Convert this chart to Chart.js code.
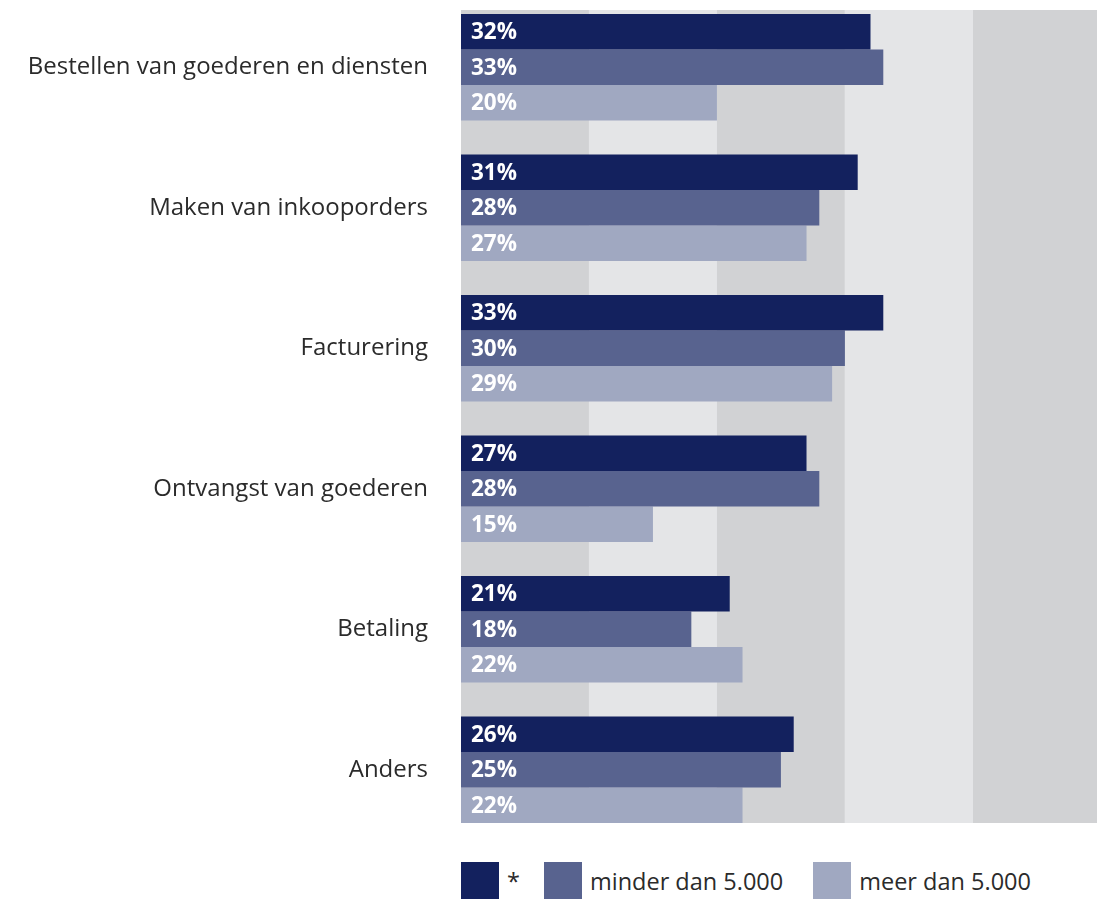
<!DOCTYPE html>
<html>
<head>
<meta charset="utf-8">
<script src="https://cdn.jsdelivr.net/npm/chart.js@4.4.1/dist/chart.umd.min.js"></script>
<style>
  body { margin: 0; background: #fff; overflow: hidden; }
  #myChart { position: absolute; left: 0; top: -3px; }
  #legend { position: absolute; left: 461px; top: 862px; display: flex; align-items: center;
    font-family: 'Open Sans', sans-serif; font-size: 23.5px; color: #2b2b2b; }
  #legend .item { display: flex; align-items: center; }
  #legend .box { width: 38px; height: 38px; margin-right: 8px; }
</style>
</head>
<body>
<canvas id="myChart" width="1097" height="843"></canvas>
<div id="legend"></div>
<script>
const categories = [
  'Bestellen van goederen en diensten',
  'Maken van inkooporders',
  'Facturering',
  'Ontvangst van goederen',
  'Betaling',
  'Anders',
];
const seriesNames = ['*', 'minder dan 5.000', 'meer dan 5.000'];
const starValues  = [32, 31, 33, 27, 21, 26];
const underValues = [33, 28, 30, 28, 18, 25];
const overValues  = [20, 27, 29, 15, 22, 22];
const bandSteps   = [0, 10, 20, 30, 40, 50];

const colors = ['#13215e', '#58638f', '#a0a8c1'];
const bandColors = ['#d1d2d4', '#e4e5e7'];
const legendGaps = [24, 30, 0];
const fontFamily = 'Open Sans';

const ctx = document.getElementById('myChart').getContext('2d');

// alternating grey bands behind the bars, every 10%
const bandPlugin = {
  id: 'bands',
  beforeDatasetsDraw(chart) {
    const { ctx, chartArea, scales: { x } } = chart;
    const first = chart.getDatasetMeta(0).data[0].getProps(['y', 'height'], true);
    const last = chart.getDatasetMeta(2).data[categories.length - 1].getProps(['y', 'height'], true);
    const top = first.y - first.height / 2 - 4;
    const bottom = last.y + last.height / 2;
    ctx.save();
    for (let i = 0; i < bandSteps.length - 1; i++) {
      const x0 = x.getPixelForValue(bandSteps[i]);
      const x1 = Math.min(x.getPixelForValue(bandSteps[i + 1]), chartArea.right);
      ctx.fillStyle = bandColors[i % 2];
      ctx.fillRect(x0, top, x1 - x0, bottom - top);
    }
    ctx.restore();
  }
};

// percentage written inside each bar
const valueLabels = {
  id: 'valueLabels',
  afterDatasetsDraw(chart) {
    const { ctx } = chart;
    ctx.save();
    ctx.font = 'bold 22.5px ' + fontFamily;
    ctx.fillStyle = '#ffffff';
    ctx.textBaseline = 'middle';
    chart.data.datasets.forEach((ds, di) => {
      chart.getDatasetMeta(di).data.forEach((bar, i) => {
        const p = bar.getProps(['y', 'base'], true);
        ctx.fillText(ds.data[i] + '%', p.base + 10, p.y + 1);
      });
    });
    ctx.restore();
  }
};

const data = {
  labels: categories,
  datasets: [starValues, underValues, overValues].map((values, i) => ({
    label: seriesNames[i],
    data: values,
    backgroundColor: colors[i],
    borderWidth: 0,
    barPercentage: 1,
    categoryPercentage: 0.758,
  })),
};

const config = {
  type: 'bar',
  data: data,
  options: {
    indexAxis: 'y',
    responsive: false,
    animation: false,
    layout: { padding: 0 },
    scales: {
      x: {
        display: false,
        min: 0,
        max: 49.7,
      },
      y: {
        grid: { display: false, drawTicks: false },
        border: { display: false },
        afterFit(scale) {
          scale.width = 461;
          scale.paddingTop = 0;
          scale.paddingBottom = 0;
        },
        ticks: {
          color: '#2b2b2b',
          padding: 33,
          font: { size: 24, family: fontFamily }
        }
      }
    },
    plugins: {
      legend: { display: false },
      tooltip: { enabled: false }
    }
  },
  plugins: [bandPlugin, valueLabels]
};

const myChart = new Chart(ctx, config);

// legend built from the chart's own datasets
const legendEl = document.getElementById('legend');
myChart.data.datasets.forEach((ds, i) => {
  const item = document.createElement('div');
  item.className = 'item';
  item.style.marginRight = legendGaps[i] + 'px';
  const box = document.createElement('span');
  box.className = 'box';
  box.style.background = ds.backgroundColor;
  const text = document.createElement('span');
  text.textContent = ds.label;
  item.appendChild(box);
  item.appendChild(text);
  legendEl.appendChild(item);
});
</script>
</body>
</html>
